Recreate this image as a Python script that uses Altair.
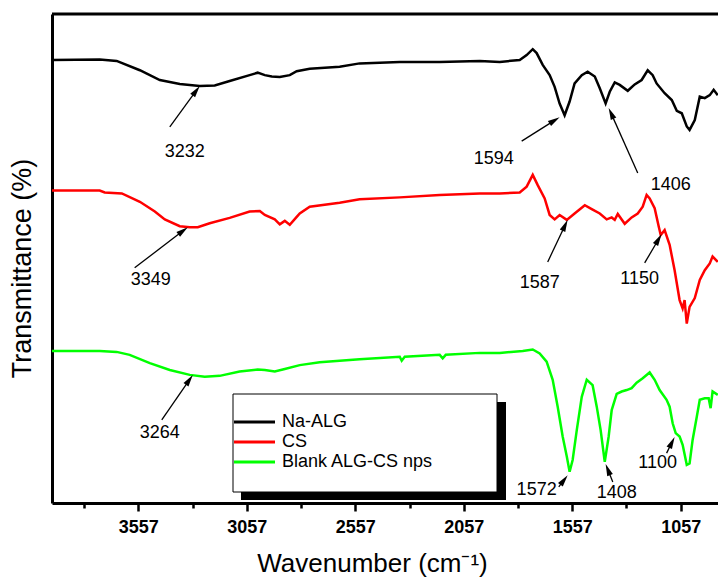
import math
import altair as alt
import pandas as pd

FONT = "Liberation Sans, Arial, Helvetica, sans-serif"

# Wavenumber window (cm^-1); the axis runs from high to low
WN_LO, WN_HI = 885, 3955
T_LO, T_HI = 0, 100
PLOT_W, PLOT_H = 666, 489

major_ticks = [3557, 3057, 2557, 2057, 1557, 1057]
minor_ticks = [3807, 3307, 2807, 2307, 1807, 1307]

series_names = ["Na-ALG", "CS", "Blank ALG-CS nps"]
series_colors = ["#000000", "#ff0000", "#00ff00"]

# Na-ALG spectrum (offset trace, top)
na_alg_wn = [3955, 3735, 3657, 3550, 3458, 3366, 3274, 3205, 3136, 3044,
             3007, 2974, 2942, 2905, 2859, 2827, 2767, 2629, 2537, 2352,
             2168, 1983, 1891, 1799, 1767, 1739, 1721, 1693, 1661, 1638,
             1615, 1592, 1569, 1546, 1513, 1486, 1453, 1430, 1403, 1384,
             1361, 1338, 1301, 1269, 1237, 1209, 1186, 1168, 1131, 1098,
             1075, 1052, 1029, 1016, 992, 969, 946, 923, 905, 886]
na_alg_t = [90.6, 90.7, 90.4, 88.5, 86.5, 85.7, 85.3, 85.4, 86.3, 87.5,
            88.0, 87.5, 87.2, 87.1, 87.5, 88.3, 88.8, 89.2, 89.9, 90.2,
            90.2, 90.4, 90.2, 90.6, 91.6, 92.8, 92.0, 89.6, 87.5, 85.1,
            81.7, 79.3, 82.1, 85.8, 87.5, 88.2, 87.2, 84.8, 81.7, 84.1,
            86.0, 85.5, 84.3, 85.6, 86.5, 88.5, 87.5, 85.8, 83.8, 82.4,
            80.2, 79.7, 77.0, 76.3, 78.3, 83.1, 82.8, 83.4, 84.5, 83.4]

# CS spectrum (offset trace, middle)
cs_wn = [3955, 3735, 3712, 3633, 3550, 3481, 3435, 3366, 3320, 3283,
         3228, 3136, 3044, 2997, 2974, 2928, 2905, 2882, 2859, 2827,
         2813, 2767, 2629, 2537, 2352, 2168, 1983, 1891, 1799, 1767,
         1739, 1716, 1684, 1661, 1638, 1615, 1582, 1546, 1499, 1467,
         1430, 1398, 1375, 1361, 1347, 1315, 1283, 1255, 1232, 1214,
         1200, 1177, 1158, 1149, 1131, 1108, 1085, 1062, 1048, 1039,
         1029, 1016, 992, 969, 946, 923, 910, 886]
cs_t = [63.9, 63.9, 63.5, 63.3, 61.6, 59.6, 58.0, 56.6, 56.4, 56.4,
        57.2, 58.3, 59.6, 59.7, 58.9, 58.0, 57.0, 57.7, 56.9, 58.5,
        59.2, 60.6, 61.4, 62.1, 62.5, 63.0, 63.3, 63.3, 63.5, 64.7,
        67.1, 65.0, 62.3, 58.9, 58.0, 58.9, 57.9, 59.2, 60.9, 60.1,
        59.2, 58.0, 58.4, 57.9, 59.1, 57.1, 58.4, 59.2, 60.6, 63.0,
        62.3, 60.3, 56.5, 54.8, 55.8, 52.8, 47.6, 41.5, 39.8, 41.5,
        36.7, 40.1, 41.9, 45.6, 47.6, 49.0, 50.4, 49.3]

# Blank ALG-CS nanoparticle spectrum (offset trace, bottom)
blank_wn = [3955, 3735, 3657, 3597, 3504, 3412, 3320, 3251, 3182, 3090,
            3007, 2974, 2928, 2882, 2813, 2721, 2537, 2352, 2343, 2329,
            2168, 2154, 2140, 1983, 1891, 1785, 1739, 1707, 1675, 1647,
            1624, 1601, 1582, 1569, 1555, 1536, 1513, 1490, 1463, 1444,
            1426, 1407, 1389, 1375, 1352, 1329, 1306, 1283, 1260, 1232,
            1200, 1177, 1154, 1122, 1108, 1094, 1080, 1062, 1048, 1029,
            1016, 1002, 983, 969, 946, 928, 919, 910, 886]
blank_t = [31.1, 31.1, 30.9, 30.3, 28.6, 27.2, 26.2, 25.8, 26.0, 26.9,
           27.3, 27.2, 26.9, 27.4, 28.2, 28.8, 29.4, 29.9, 29.1, 29.9,
           30.3, 29.6, 30.3, 30.7, 30.7, 31.1, 31.4, 30.6, 28.9, 25.2,
           19.7, 13.6, 9.5, 6.4, 8.8, 14.9, 21.7, 25.2, 24.1, 19.7,
           14.9, 8.4, 13.6, 19.0, 22.3, 22.8, 23.1, 23.5, 24.6, 25.5,
           26.7, 25.2, 23.1, 21.1, 19.7, 16.3, 14.3, 13.6, 11.9, 7.8,
           8.1, 12.9, 17.6, 21.1, 21.4, 21.4, 19.4, 22.8, 22.1]

# Band assignments: label anchor, arrow tail and arrow tip (wavenumber, T)
peak_labels = ["3232", "3349", "3264", "1594", "1406", "1587", "1150", "1572", "1408", "1100"]
label_wn = [3343, 3500, 3458, 1919, 1103, 1707, 1246, 1721, 1352, 1163]
label_t = [71.8, 45.6, 14.3, 70.3, 65.0, 45.0, 45.8, 2.7, 2.0, 8.2]
tail_wn = [3412, 3574, 3449, 1790, 1255, 1670, 1223, 1619, 1370, 1122]
tail_t = [76.9, 48.1, 17.0, 74.0, 67.5, 49.3, 49.1, 3.3, 4.3, 10.2]
head_wn = [3274, 3329, 3306, 1615, 1389, 1578, 1145, 1578, 1403, 1085]
head_t = [85.3, 56.4, 26.2, 78.9, 80.8, 57.9, 55.0, 5.7, 8.0, 13.5]

# ---------------------------------------------------------------- data frames
frames = []
for name, wn, t in zip(series_names, [na_alg_wn, cs_wn, blank_wn], [na_alg_t, cs_t, blank_t]):
    frames.append(pd.DataFrame({"wn": wn, "t": t, "series": name}))
spectra = pd.concat(frames, ignore_index=True)

labels_df = pd.DataFrame({"label": peak_labels, "wn": label_wn, "t": label_t})

# arrowheads: a narrow filled triangle whose tip sits on the band
kx = PLOT_W / (WN_HI - WN_LO)
ky = PLOT_H / (T_HI - T_LO)
HEAD_LEN = 12
shaft_rows, head_rows = [], []
for lab, tw, tt, hw, ht in zip(peak_labels, tail_wn, tail_t, head_wn, head_t):
    dx = -(hw - tw) * kx
    dy = -(ht - tt) * ky
    length = math.hypot(dx, dy)
    ux, uy = dx / length, dy / length
    cw = hw + (HEAD_LEN / 2) * ux / kx
    ct = ht + (HEAD_LEN / 2) * uy / ky
    ang = math.degrees(math.atan2(dx, -dy)) % 360
    shaft_rows.append({"arrow": lab, "wn": tw, "t": tt})
    shaft_rows.append({"arrow": lab, "wn": cw, "t": ct})
    head_rows.append({"arrow": lab, "wn": cw, "t": ct, "angle": ang})
shafts = pd.DataFrame(shaft_rows)
heads = pd.DataFrame(head_rows)

# ---------------------------------------------------------------- scales/axes
x_scale = alt.Scale(domain=[WN_LO, WN_HI], reverse=True, nice=False, zero=False)
y_scale = alt.Scale(domain=[T_LO, T_HI], nice=False, zero=False)

major_test = "(datum.value - 1057) % 500 == 0"
x_axis = alt.Axis(
    values=sorted(major_ticks + minor_ticks),
    labelExpr=f"{major_test} ? datum.value : ''",
    labelOverlap=False,
    labelFontSize=18,
    labelFontWeight="bold",
    labelFont=FONT,
    labelColor="#000000",
    labelPadding=7,
    tickSize={"condition": {"test": major_test, "value": 8}, "value": 5},
    tickWidth=2.5,
    tickColor="#000000",
    domainWidth=3,
    domainColor="#000000",
    grid=False,
    title="Wavenumber (cm⁻¹)",
    titleFont=FONT,
    titleFontSize=26,
    titleFontWeight="normal",
    titleColor="#000000",
    titleAlign="center",
    titleBaseline="middle",
    titleX=320,
    titleY=60,
)
y_axis = alt.Axis(
    labels=False,
    ticks=False,
    domainWidth=3,
    domainColor="#000000",
    grid=False,
    title="Transmittance (%)",
    titleFont=FONT,
    titleFontSize=27,
    titleFontWeight="normal",
    titleColor="#000000",
    titleAlign="center",
    titleBaseline="middle",
    titleAngle=270,
    titleX=-30,
    titleY=254,
)

lines = alt.Chart(spectra).mark_line(strokeWidth=2.5, clip=True).encode(
    x=alt.X("wn:Q", scale=x_scale, axis=x_axis),
    y=alt.Y("t:Q", scale=y_scale, axis=y_axis),
    color=alt.Color("series:N", scale=alt.Scale(domain=series_names, range=series_colors), legend=None),
    detail="series:N",
)

shaft_layer = alt.Chart(shafts).mark_line(color="#000000", strokeWidth=1.3).encode(
    x="wn:Q", y="t:Q", detail="arrow:N"
)
head_layer = alt.Chart(heads).mark_point(
    shape="M0,-1L0.5,1L-0.5,1Z", size=HEAD_LEN ** 2, filled=True, color="#000000", opacity=1
).encode(x="wn:Q", y="t:Q", angle=alt.Angle("angle:Q", scale=None))

text_layer = alt.Chart(labels_df).mark_text(
    font=FONT, fontSize=18, color="#000000", align="center", baseline="middle"
).encode(x="wn:Q", y="t:Q", text="label:N")

# top frame line
top_line = alt.Chart(pd.DataFrame({"k": [0]})).mark_rule(color="#000000", strokeWidth=3).encode(
    x=alt.value(0), x2=alt.value(PLOT_W), y=alt.value(0)
)

# boxed legend with drop shadow
legend_df = pd.DataFrame({"k": [0]})
shadow = alt.Chart(legend_df).mark_rect(color="#000000").encode(
    x=alt.value(189), x2=alt.value(454), y=alt.value(388), y2=alt.value(486)
)
box = alt.Chart(legend_df).mark_rect(fill="#ffffff", stroke="#000000", strokeWidth=1).encode(
    x=alt.value(181), x2=alt.value(445), y=alt.value(380), y2=alt.value(478)
)
legend_layers = [shadow, box]
for i, (name, col) in enumerate(zip(series_names, series_colors)):
    yy = 408 + 20 * i
    legend_layers.append(
        alt.Chart(legend_df).mark_rule(color=col, strokeWidth=3).encode(
            x=alt.value(182), x2=alt.value(223), y=alt.value(yy)
        )
    )
    legend_layers.append(
        alt.Chart(legend_df).mark_text(
            text=name, font=FONT, fontSize=18, color="#000000", align="left", baseline="middle"
        ).encode(x=alt.value(230), y=alt.value(yy))
    )

chart = alt.layer(
    lines, shaft_layer, head_layer, text_layer, top_line, *legend_layers
).properties(
    width=PLOT_W,
    height=PLOT_H,
    autosize=alt.AutoSizeParams(type="none"),
    padding={"left": 52, "top": 14, "right": 0, "bottom": 75},
    background="#ffffff",
).configure_view(stroke=None)

chart.save("out.html", embed_options={"renderer": "svg", "actions": False})
